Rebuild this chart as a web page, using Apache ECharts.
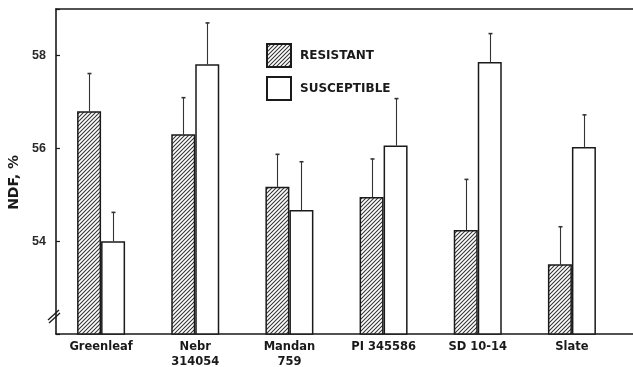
<!DOCTYPE html>
<html>
<head>
<meta charset="utf-8">
<script src="https://cdn.jsdelivr.net/npm/echarts@6/dist/echarts.min.js"></script>
<style>
  html, body { margin: 0; padding: 0; background: #fff; }
  #chart { width: 633px; height: 367px; }
</style>
</head>
<body>
<div id="chart"></div>
<script>
// ---- data ----
const categories = ['Greenleaf', 'Nebr\n314054', 'Mandan\n759', 'PI 345586', 'SD 10-14', 'Slate'];
const resistant = [56.8, 56.3, 55.17, 54.95, 54.24, 53.5];
const resistantErr = [57.61, 57.09, 55.87, 55.77, 55.33, 54.31];
const susceptible = [54.0, 57.81, 54.67, 56.06, 57.86, 56.03];
const susceptibleErr = [54.62, 58.7, 55.71, 57.07, 58.47, 56.72];
const yTickLabels = [54, 56, 58];

const INK = '#1a1a1a';
const FONT = '"Liberation Sans", Arial, Helvetica, sans-serif';
const WIDE = '"DejaVu Sans", Verdana, sans-serif';
const BAR_W = 24;

// hatch pattern (///)
function makeHatch() {
  const c = document.createElement('canvas');
  c.width = 4; c.height = 4;
  const g = c.getContext('2d');
  g.fillStyle = '#ffffff';
  g.fillRect(0, 0, 4, 4);
  g.strokeStyle = '#333333';
  g.lineWidth = 1.05;
  g.beginPath();
  g.moveTo(-1, 5); g.lineTo(5, -1);
  g.moveTo(-1, 1); g.lineTo(1, -1);
  g.moveTo(3, 5); g.lineTo(5, 3);
  g.stroke();
  return c;
}
const hatch = { image: makeHatch(), repeat: 'repeat' };

function errorRender(offset) {
  return function (params, api) {
    const i = api.value(0);
    const base = api.coord([i, api.value(1)]);
    const top = api.coord([i, api.value(2)]);
    const x = Math.round(base[0] + offset) + 0.5;
    return {
      type: 'group',
      children: [
        { type: 'line', shape: { x1: x, y1: base[1], x2: x, y2: top[1] },
          style: { stroke: '#333', lineWidth: 1.1 } },
        { type: 'line', shape: { x1: x - 2, y1: top[1], x2: x + 2, y2: top[1] },
          style: { stroke: '#333', lineWidth: 1.6 } }
      ]
    };
  };
}

const chart = echarts.init(document.getElementById('chart'), null, { renderer: 'canvas' });
chart.setOption({
  backgroundColor: '#ffffff',
  animation: false,
  textStyle: { fontFamily: FONT },
  grid: [
    { left: 56, right: 0, top: 9, bottom: 33, outerBoundsMode: 'none', containLabel: false },
    { left: 54, width: 565, top: 9, bottom: 33, outerBoundsMode: 'none', containLabel: false }
  ],
  legend: {
    orient: 'vertical',
    left: 266, top: 43, padding: 0,
    icon: 'rect',
    itemWidth: 24, itemHeight: 23, itemGap: 8,
    data: ['RESISTANT', 'SUSCEPTIBLE'],
    textStyle: { fontFamily: WIDE, fontWeight: 'bold', fontSize: 12, color: INK, padding: [0, 0, 0, 4] },
    selectedMode: false
  },
  xAxis: [
    { type: 'value', gridIndex: 0, min: 0, max: 1, position: 'bottom',
      axisLine: { show: true, lineStyle: { color: INK, width: 1.6 } },
      axisTick: { show: false }, axisLabel: { show: false }, splitLine: { show: false } },
    { type: 'category', gridIndex: 1, data: categories,
      axisLine: { show: false }, axisTick: { show: false },
      axisLabel: { fontFamily: WIDE, fontWeight: 'bold', fontSize: 11.5, color: INK, lineHeight: 15, margin: 6 } },
    { type: 'value', gridIndex: 0, min: 0, max: 1, position: 'top',
      axisLine: { show: true, lineStyle: { color: INK, width: 1.6 } },
      axisTick: { show: false }, axisLabel: { show: false }, splitLine: { show: false } }
  ],
  yAxis: [
    { type: 'value', gridIndex: 0, min: 52, max: 59, interval: 2,
      axisLine: { show: true, lineStyle: { color: INK, width: 1.6 } },
      axisTick: { show: true, inside: true, length: 4, lineStyle: { color: INK, width: 1.2 } },
      splitLine: { show: false },
      axisLabel: {
        fontFamily: FONT, fontWeight: 'bold', fontSize: 12.5, color: '#2a2a2a', margin: 10,
        formatter: function (v) { return yTickLabels.indexOf(v) >= 0 ? String(v) : ''; }
      } },
    { type: 'value', gridIndex: 1, min: 52, max: 59, show: false }
  ],
  graphic: [
    { type: 'text', left: 7, top: 155, rotation: Math.PI / 2, originX: 0, originY: 0,
      style: { text: 'NDF, %', font: 'bold 14px ' + WIDE, fill: INK } },
    { type: 'line', shape: { x1: 48, y1: 320, x2: 59, y2: 310 }, style: { stroke: INK, lineWidth: 1.3 } },
    { type: 'line', shape: { x1: 49, y1: 323, x2: 60, y2: 313 }, style: { stroke: INK, lineWidth: 1.3 } }
  ],
  series: [
    { name: 'RESISTANT', type: 'bar', xAxisIndex: 1, yAxisIndex: 1, data: resistant,
      barWidth: BAR_W, barGap: '0%',
      itemStyle: { color: hatch, borderColor: INK, borderWidth: 1.5 } },
    { name: 'SUSCEPTIBLE', type: 'bar', xAxisIndex: 1, yAxisIndex: 1, data: susceptible,
      barWidth: BAR_W, barGap: '0%',
      itemStyle: { color: '#ffffff', borderColor: INK, borderWidth: 1.5 } },
    { type: 'custom', xAxisIndex: 1, yAxisIndex: 1, z: 1,
      renderItem: errorRender(-BAR_W / 2),
      data: resistant.map((v, i) => [i, v, resistantErr[i]]) },
    { type: 'custom', xAxisIndex: 1, yAxisIndex: 1, z: 1,
      renderItem: errorRender(BAR_W / 2),
      data: susceptible.map((v, i) => [i, v, susceptibleErr[i]]) }
  ]
});
</script>
</body>
</html>
